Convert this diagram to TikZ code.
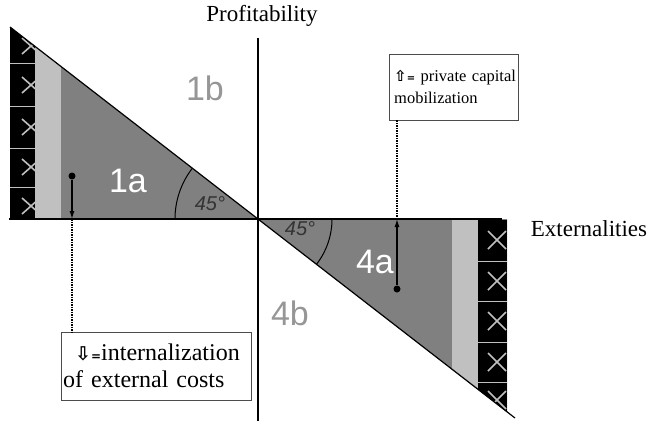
\documentclass[tikz,border=0pt]{standalone}
\usepackage{fontspec}
\setmainfont{Liberation Serif}
\setsansfont{Liberation Sans}
\newfontfamily\arrowfont{DejaVu Sans}[BoldFont={DejaVu Sans Bold}]
\usetikzlibrary{arrows.meta}
\definecolor{darkfill}{RGB}{128,128,128}
\definecolor{lightfill}{RGB}{192,192,192}
\definecolor{labelgray}{RGB}{150,150,150}
\tikzset{
  axis/.style={line width=1.2pt},
  quadlabel/.style={font=\sffamily\fontsize{34}{34}\selectfont},
  anglabel/.style={font=\sffamily\itshape\fontsize{20}{20}\selectfont, text=black!80},
  legendbox/.style={draw=black!70, fill=white, align=left, inner ysep=0pt, anchor=north west},
  xmark/.style={draw=lightfill, line width=1.6pt},
  guide/.style={dash pattern=on 1.5pt off 1pt, line width=1.2pt},
  dot/.style={circle, fill=black, inner sep=0pt, minimum size=7pt},
}
\newcommand{\legarrow}[3][19]{{\arrowfont\bfseries\fontsize{#1}{#1}\selectfont #3\fontsize{#2}{#2}\selectfont=}}
\begin{document}
\begin{tikzpicture}[x=1pt,y=-1pt]
    \useasboundingbox (0,0) rectangle (651,421);
    % quadrant 1
    \fill[darkfill] (10,27) -- (258,219) -- (10,219) -- cycle;
    \begin{scope}
    \clip (10,27) -- (258,219) -- (10,219) -- cycle;
    \fill[black] (10,0) rectangle (35,219);
    \foreach \y in {46,85,127,167,206}
        \draw[xmark] (22,\y-8) -- (40,\y+8) (22,\y+8) -- (40,\y-8);
    \foreach \y in {63,106,148,187}
        \draw[lightfill, line width=1pt] (10,\y) -- (35,\y);
    \fill[lightfill] (35,0) rectangle (61,219);
    \end{scope}
    % quadrant 4
    \fill[darkfill] (258,219) -- (507,219) -- (507,412) -- cycle;
    \begin{scope}
    \clip (258,219) -- (507,219) -- (507,412) -- cycle;
    \fill[lightfill] (452,219) rectangle (478,421);
    \fill[black] (478,220) rectangle (507,421);
    \foreach \y in {240,281,321,362,400}
        \draw[xmark] (488,\y-9) -- (506,\y+9) (488,\y+9) -- (506,\y-9);
    \foreach \y in {261,301,342,382}
        \draw[lightfill, line width=1pt] (478,\y) -- (507,\y);
    \end{scope}
    % axes
    \draw[axis] (9,219) -- (502,219);
    \draw[axis] (258,38) -- (258,421);
    \draw[axis] (10,27) -- (515,418);
    \draw[line width=1pt] (175,219) arc[start angle=180, end angle=217.7, radius=83];
    \draw[line width=1pt] (332,219) arc[start angle=0, end angle=37.7, radius=74];

    \node[font=\fontsize{23}{23}\selectfont] (prof) at (262,16) {Profitability};
    \node[font=\fontsize{23}{23}\selectfont] (ext) at (589,229) {Externalities};

    \node[quadlabel, text=labelgray] (q1b) at (205,88) {1b};
    \node[quadlabel, text=white] (q1a) at (128,181) {1a};
    \node[quadlabel, text=white] (q4a) at (375,262) {4a};
    \node[quadlabel, text=labelgray] (q4b) at (290,313) {4b};
    \node[anglabel] (ang1) at (210,204) {45°};
    \node[anglabel] (ang4) at (300,229) {45°};

    % arrows and legends
    \node[dot] (dotA) at (72,176) {};
    \coordinate (footA) at (72,219);
    \node[dot] (dotB) at (397,289) {};
    \coordinate (footB) at (397,219);
    \draw[line width=1.2pt, -{Latex[length=8pt,width=5pt]}] (dotA) -- (footA);
    \draw[line width=1.2pt, -{Latex[length=8pt,width=5pt]}] (dotB) -- (footB);

    \node[legendbox, inner xsep=2pt, text width=186pt, minimum height=68pt,
          font=\fontsize{24}{27}\selectfont] (costbox) at (61,332)
        {\hspace*{12pt}\mbox{\legarrow{12}{⇩}internalization}\\\mbox{of external costs}};
    \node[legendbox, inner xsep=5pt, text width=119pt, minimum height=66pt,
          font=\fontsize{16.5}{22}\selectfont] (capbox) at (389,54)
        {\mbox{\legarrow[15]{10}{⇧} private capital}\\mobilization};
    \draw[guide] (footA) -- (costbox.north -| footA);
    \draw[guide] (capbox.south -| footB) -- (footB);
\end{tikzpicture}
\end{document}
